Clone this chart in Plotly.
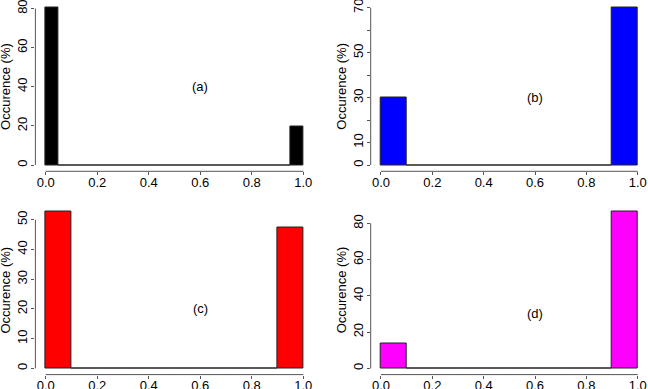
import plotly.graph_objects as go

# ---- data (percent occurrence per histogram bin) ----
a_edges = [0.00, 0.05, 0.10, 0.15, 0.20, 0.25, 0.30, 0.35, 0.40, 0.45,
           0.50, 0.55, 0.60, 0.65, 0.70, 0.75, 0.80, 0.85, 0.90, 0.95, 1.00]
a_counts = [80.4, 0, 0, 0, 0, 0, 0, 0, 0, 0, 0, 0, 0, 0, 0, 0, 0, 0, 0, 19.6]

bcd_edges = [0.0, 0.1, 0.2, 0.3, 0.4, 0.5, 0.6, 0.7, 0.8, 0.9, 1.0]
b_counts = [30, 0, 0, 0, 0, 0, 0, 0, 0, 70]
c_counts = [52.7, 0, 0, 0, 0, 0, 0, 0, 0, 47.3]
d_counts = [13.6, 0, 0, 0, 0, 0, 0, 0, 0, 86.4]

x_ticks = [0.0, 0.2, 0.4, 0.6, 0.8, 1.0]
x_ticktext = ["0.0", "0.2", "0.4", "0.6", "0.8", "1.0"]

a_yticks = [0, 20, 40, 60, 80]
a_ytext = ["0", "20", "40", "60", "80"]
b_yticks = [0, 10, 20, 30, 40, 50, 60, 70]
b_ytext = ["0", "10", "", "30", "", "50", "", "70"]
c_yticks = [0, 10, 20, 30, 40, 50]
c_ytext = ["0", "10", "20", "30", "40", "50"]
d_yticks = [0, 20, 40, 60, 80]
d_ytext = ["0", "20", "40", "60", "80"]

panel_labels = ["(a)", "(b)", "(c)", "(d)"]
label_x = [0.6, 0.6, 0.6, 0.6]
label_y = [40, 30, 20, 30]
colors = ["#000000", "#0000FF", "#FF0000", "#FF00FF"]
y_title = "Occurence (%)"

panels = [
    (a_edges, a_counts, a_yticks, a_ytext),
    (bcd_edges, b_counts, b_yticks, b_ytext),
    (bcd_edges, c_counts, c_yticks, c_ytext),
    (bcd_edges, d_counts, d_yticks, d_ytext),
]

W, H = 648, 389
xdoms = [[35.4 / W, 313.6 / W], [370.7 / W, 1.0], [35.4 / W, 313.6 / W], [370.7 / W, 1.0]]
ydoms = [[1 - 171.3 / H, 1 - 1.5 / H], [1 - 171.3 / H, 1 - 1.5 / H],
         [1 - 374.6 / H, 1 - 205.5 / H], [1 - 374.6 / H, 1 - 205.5 / H]]
title_x = [5.5 / W, 341.3 / W, 5.5 / W, 341.3 / W]

FONT = "Liberation Sans, Arial, sans-serif"
AXC = "#555555"

fig = go.Figure()
layout = dict(
    width=W, height=H, margin=dict(l=0, r=0, t=0, b=0),
    paper_bgcolor="white", plot_bgcolor="white",
    showlegend=False, bargap=0, template="none",
    font=dict(family=FONT, size=13, color="black"),
)
shapes = []
annotations = []

for i, (edges, counts, yt, ytt) in enumerate(panels):
    n = i + 1
    xa = "x" if n == 1 else f"x{n}"
    ya = "y" if n == 1 else f"y{n}"
    centers = [(edges[k] + edges[k + 1]) / 2 for k in range(len(counts))]
    widths = [edges[k + 1] - edges[k] for k in range(len(counts))]
    fig.add_trace(go.Bar(
        x=centers, y=counts, width=widths,
        marker=dict(color=colors[i], line=dict(color="#222222", width=1)),
        xaxis=xa, yaxis=ya, hoverinfo="skip",
    ))
    ymax = max(counts)
    layout["xaxis" if n == 1 else f"xaxis{n}"] = dict(
        domain=xdoms[i], anchor=ya, range=[-0.04, 1.04],
        tickvals=x_ticks, ticktext=x_ticktext, ticks="outside", ticklen=3,
        ticklabelstandoff=-4,
        tickcolor=AXC, showgrid=False, zeroline=False, showline=False,
        automargin=False, ticklabeloverflow="allow",
        tickfont=dict(size=13, family=FONT),
    )
    layout["yaxis" if n == 1 else f"yaxis{n}"] = dict(
        domain=ydoms[i], anchor=xa, range=[-0.04 * ymax, 1.04 * ymax],
        tickvals=yt, ticktext=ytt, ticks="outside", ticklen=3, tickangle=-90,
        ticklabelstandoff=-1,
        tickcolor=AXC, showgrid=False, zeroline=False, showline=False,
        automargin=False, ticklabeloverflow="allow",
        tickfont=dict(size=13, family=FONT),
    )
    # R-style axis lines spanning first to last tick
    shapes.append(dict(type="line", xref=xa, yref=f"{ya} domain",
                       x0=x_ticks[0], x1=x_ticks[-1], y0=0, y1=0,
                       line=dict(color=AXC, width=1)))
    shapes.append(dict(type="line", xref=f"{xa} domain", yref=ya,
                       x0=0, x1=0, y0=yt[0], y1=yt[-1],
                       line=dict(color=AXC, width=1)))
    annotations.append(dict(text=panel_labels[i], x=label_x[i], y=label_y[i],
                            xref=xa, yref=ya, showarrow=False,
                            font=dict(size=13, family=FONT)))
    annotations.append(dict(text=y_title, x=title_x[i], y=0.5,
                            xref="paper", yref=f"{ya} domain", showarrow=False,
                            textangle=-90, xanchor="center", yanchor="middle",
                            font=dict(size=13, family=FONT)))

layout["shapes"] = shapes
layout["annotations"] = annotations
fig.update_layout(**layout)
fig.write_html(
    "out.html",
    config={"displayModeBar": False},
    post_script="document.body.style.margin='0px';document.body.style.overflow='hidden';",
)
